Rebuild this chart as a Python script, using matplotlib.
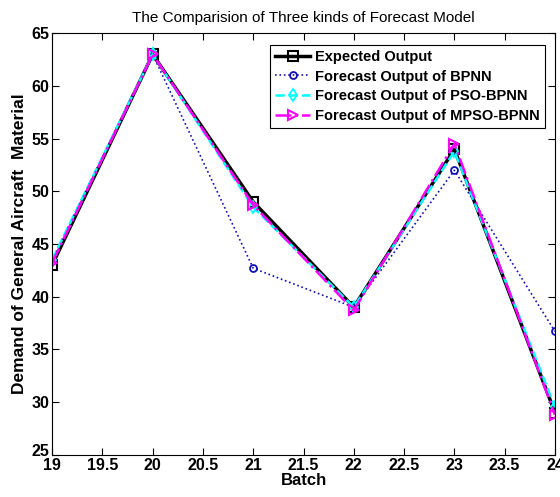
import matplotlib
matplotlib.use("Agg")
import matplotlib.pyplot as plt
import matplotlib.transforms as mtransforms

## Data
batch = [19, 20, 21, 22, 23, 24]
expected = [43.0, 63.0, 49.0, 39.0, 54.0, 29.0]
bpnn = [43.5, 63.0, 42.7, 39.0, 52.0, 36.7]
pso_bpnn = [43.5, 63.0, 48.5, 39.0, 53.8, 29.5]
mpso_bpnn = [43.2, 63.0, 48.7, 38.7, 54.5, 28.8]

plt.rcParams["font.family"] = ["Liberation Sans", "DejaVu Sans"]

fig = plt.figure(figsize=(5.6, 4.97), dpi=100)
ax = fig.add_axes([0.093, 0.085, 0.898, 0.848])

ax.plot(batch, expected, color="black", lw=2.5, marker="s", ms=7,
        mfc="none", mew=1.5, label="Expected Output")
ax.plot(batch, bpnn, color="#1010b0", lw=1.2, ls=":", marker="o", ms=5,
        mfc="none", mew=1.3, label="Forecast Output of BPNN")
ax.plot(batch, pso_bpnn, color="cyan", lw=1.8, ls="--", marker="d", ms=6,
        mfc="none", mew=1.3, label="Forecast Output of PSO-BPNN")
ax.plot(batch, mpso_bpnn, color="magenta", lw=1.8, ls="-.", marker=">", ms=7,
        mfc="none", mew=1.5, label="Forecast Output of MPSO-BPNN")

ax.set_xlim(19, 24)
ax.set_ylim(25, 65)
ax.set_xticks([19, 19.5, 20, 20.5, 21, 21.5, 22, 22.5, 23, 23.5, 24])
ax.set_xticklabels(["19", "19.5", "20", "20.5", "21", "21.5", "22", "22.5",
                    "23", "23.5", "24"])
ax.set_yticks(range(25, 66, 5))
ax.tick_params(direction="in", length=5, labelsize=11.5, top=True, right=True,
               pad=2)
for lab in ax.get_xticklabels() + ax.get_yticklabels():
    lab.set_fontweight("bold")

# matlab puts the bottom y label a bit above the corner
fig.canvas.draw()
ylabs = ax.get_yticklabels()
ylabs[0].set_transform(ylabs[0].get_transform() +
                       mtransforms.ScaledTranslation(0, 5 / 100, fig.dpi_scale_trans))

ax.set_xlabel("Batch", fontsize=12, fontweight="bold", labelpad=0)
ax.set_ylabel("Demand of General Aircraft  Material", fontsize=12.5,
              fontweight="bold", labelpad=3)
ax.set_title("The Comparision of Three kinds of Forecast Model", fontsize=11,
             pad=8)

leg = ax.legend(loc="upper right", prop={"weight": "bold", "size": 10.5},
                fancybox=False, edgecolor="black", framealpha=1,
                handlelength=2.4, handletextpad=0.3, borderpad=0.35,
                labelspacing=0.4, borderaxespad=0.2,
                bbox_to_anchor=(0.985, 0.98))
leg.get_frame().set_linewidth(0.8)

fig.savefig("out.png", dpi=100)
